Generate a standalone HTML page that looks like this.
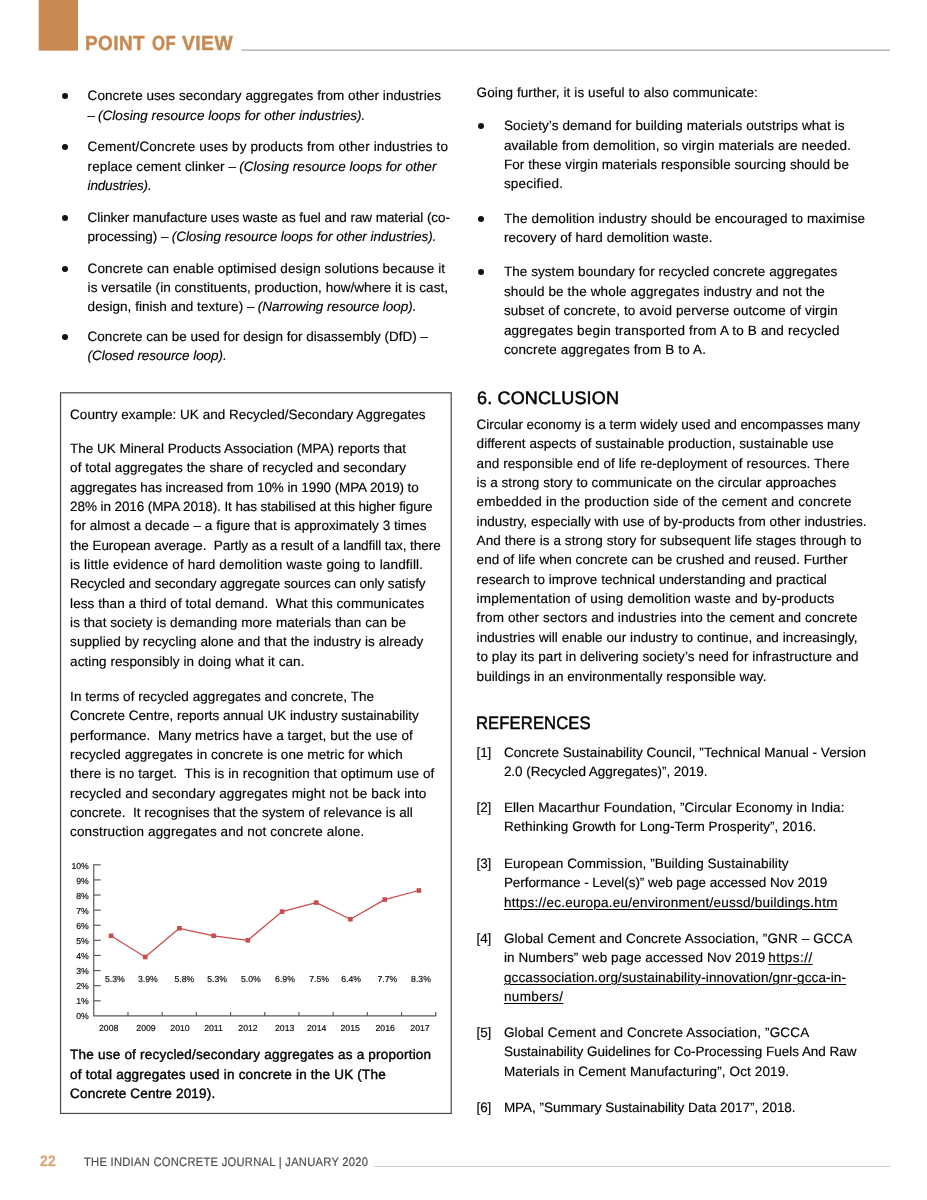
<!DOCTYPE html>
<html lang="en"><head><meta charset="utf-8"><title>Point of View – The Indian Concrete Journal</title>
<style>
html,body{margin:0;padding:0;background:#fff}
body{width:927px;height:1200px;position:relative;overflow:hidden;font-family:"Liberation Sans",sans-serif;color:#000;text-rendering:geometricPrecision}
.t{position:absolute;white-space:pre;font-size:13.5px;line-height:20px;height:20px;-webkit-text-stroke:0.15px #000}
.h{font-size:18px;line-height:24px;height:24px;color:#000;-webkit-text-stroke:0.5px #000;transform-origin:0 0}
.i{font-style:italic}
.m{-webkit-text-stroke:0.4px #000}
.u{text-decoration:underline;text-decoration-thickness:1px;text-underline-offset:1.5px}
.b{position:absolute;width:6px;height:6px;border-radius:50%;background:#111}
.pov{font-weight:bold;font-size:20.5px;line-height:24px;height:24px;color:#c98a52;transform-origin:0 0;transform:scaleX(0.86);-webkit-text-stroke:0.45px #c98a52}
.pn{font-weight:bold;font-size:15px;line-height:18px;height:18px;color:#d8a877;transform-origin:0 0;-webkit-text-stroke:0.3px #d8a877}
.ft{font-size:12.4px;line-height:16px;height:16px;color:#5c5c5c;transform-origin:0 0;transform:scaleX(0.9)}
.chart{position:absolute;left:0;top:0}
</style></head><body>
<i class="b" style="left:61.85px;top:93.0px"></i>
<i class="b" style="left:61.85px;top:144.0px"></i>
<i class="b" style="left:61.85px;top:215.0px"></i>
<i class="b" style="left:61.85px;top:266.0px"></i>
<i class="b" style="left:61.85px;top:334.0px"></i>
<i class="b" style="left:478.00px;top:123.0px"></i>
<i class="b" style="left:478.00px;top:216.0px"></i>
<i class="b" style="left:478.00px;top:269.0px"></i>
<span class="t" style="left:87.6px;top:86px;letter-spacing:0.040px">Concrete uses secondary aggregates from other industries</span>
<span class="t" style="left:87.6px;top:106px;letter-spacing:0.000px">–</span>
<span class="t i" style="left:98.0px;top:106px;letter-spacing:0.039px">(Closing resource loops for other industries).</span>
<span class="t" style="left:87.6px;top:137px;letter-spacing:0.125px">Cement/Concrete uses by products from other industries to</span>
<span class="t" style="left:87.6px;top:157px;letter-spacing:0.090px">replace cement clinker –</span>
<span class="t i" style="left:239.2px;top:157px;letter-spacing:0.042px">(Closing resource loops for other</span>
<span class="t i" style="left:87.6px;top:176px;letter-spacing:-0.176px">industries).</span>
<span class="t" style="left:87.6px;top:208px;letter-spacing:-0.064px">Clinker manufacture uses waste as fuel and raw material (co-</span>
<span class="t" style="left:87.6px;top:227px;letter-spacing:-0.012px">processing) –</span>
<span class="t i" style="left:171.7px;top:227px;letter-spacing:-0.021px">(Closing resource loops for other industries).</span>
<span class="t" style="left:87.6px;top:259px;letter-spacing:0.097px">Concrete can enable optimised design solutions because it</span>
<span class="t" style="left:87.6px;top:278px;letter-spacing:0.039px">is versatile (in constituents, production, how/where it is cast,</span>
<span class="t" style="left:87.6px;top:297px;letter-spacing:0.037px">design, finish and texture) –</span>
<span class="t i" style="left:257.8px;top:297px;letter-spacing:-0.049px">(Narrowing resource loop).</span>
<span class="t" style="left:87.6px;top:327px;letter-spacing:0.009px">Concrete can be used for design for disassembly (DfD) –</span>
<span class="t i" style="left:87.6px;top:346px;letter-spacing:-0.056px">(Closed resource loop).</span>
<span class="t" style="left:70.1px;top:405px;letter-spacing:0.025px">Country example: UK and Recycled/Secondary Aggregates</span>
<span class="t" style="left:70.1px;top:439px;letter-spacing:0.000px">The UK Mineral Products Association (MPA) reports that</span>
<span class="t" style="left:70.1px;top:458px;letter-spacing:0.050px">of total aggregates the share of recycled and secondary</span>
<span class="t" style="left:70.1px;top:478px;letter-spacing:-0.098px">aggregates has increased from 10% in 1990 (MPA 2019) to</span>
<span class="t" style="left:70.1px;top:497px;letter-spacing:-0.094px">28% in 2016 (MPA 2018). It has stabilised at this higher figure</span>
<span class="t" style="left:70.1px;top:516px;letter-spacing:0.050px">for almost a decade – a figure that is approximately 3 times</span>
<span class="t" style="left:70.1px;top:536px;letter-spacing:-0.048px">the European average.  Partly as a result of a landfill tax, there</span>
<span class="t" style="left:70.1px;top:555px;letter-spacing:0.163px">is little evidence of hard demolition waste going to landfill.</span>
<span class="t" style="left:70.1px;top:574px;letter-spacing:-0.071px">Recycled and secondary aggregate sources can only satisfy</span>
<span class="t" style="left:70.1px;top:594px;letter-spacing:0.066px">less than a third of total demand.  What this communicates</span>
<span class="t" style="left:70.1px;top:613px;letter-spacing:0.051px">is that society is demanding more materials than can be</span>
<span class="t" style="left:70.1px;top:632px;letter-spacing:0.059px">supplied by recycling alone and that the industry is already</span>
<span class="t" style="left:70.1px;top:652px;letter-spacing:0.081px">acting responsibly in doing what it can.</span>
<span class="t" style="left:70.1px;top:687px;letter-spacing:0.052px">In terms of recycled aggregates and concrete, The</span>
<span class="t" style="left:70.1px;top:706px;letter-spacing:0.022px">Concrete Centre, reports annual UK industry sustainability</span>
<span class="t" style="left:70.1px;top:726px;letter-spacing:0.064px">performance.  Many metrics have a target, but the use of</span>
<span class="t" style="left:70.1px;top:745px;letter-spacing:0.061px">recycled aggregates in concrete is one metric for which</span>
<span class="t" style="left:70.1px;top:764px;letter-spacing:0.105px">there is no target.  This is in recognition that optimum use of</span>
<span class="t" style="left:70.1px;top:784px;letter-spacing:0.118px">recycled and secondary aggregates might not be back into</span>
<span class="t" style="left:70.1px;top:803px;letter-spacing:-0.004px">concrete.  It recognises that the system of relevance is all</span>
<span class="t" style="left:70.1px;top:822px;letter-spacing:0.112px">construction aggregates and not concrete alone.</span>
<span class="t m" style="left:70.1px;top:1045px;letter-spacing:0.219px">The use of recycled/secondary aggregates as a proportion</span>
<span class="t m" style="left:70.1px;top:1065px;letter-spacing:0.203px">of total aggregates used in concrete in the UK (The</span>
<span class="t m" style="left:70.1px;top:1084px;letter-spacing:0.192px">Concrete Centre 2019).</span>
<span class="t" style="left:476.6px;top:83px;letter-spacing:0.092px">Going further, it is useful to also communicate:</span>
<span class="t" style="left:503.9px;top:116px;letter-spacing:0.097px">Society’s demand for building materials outstrips what is</span>
<span class="t" style="left:503.9px;top:136px;letter-spacing:0.099px">available from demolition, so virgin materials are needed.</span>
<span class="t" style="left:503.9px;top:155px;letter-spacing:0.065px">For these virgin materials responsible sourcing should be</span>
<span class="t" style="left:503.9px;top:174px;letter-spacing:0.217px">specified.</span>
<span class="t" style="left:503.9px;top:209px;letter-spacing:0.154px">The demolition industry should be encouraged to maximise</span>
<span class="t" style="left:503.9px;top:228px;letter-spacing:0.091px">recovery of hard demolition waste.</span>
<span class="t" style="left:503.9px;top:262px;letter-spacing:0.065px">The system boundary for recycled concrete aggregates</span>
<span class="t" style="left:503.9px;top:282px;letter-spacing:0.143px">should be the whole aggregates industry and not the</span>
<span class="t" style="left:503.9px;top:301px;letter-spacing:0.112px">subset of concrete, to avoid perverse outcome of virgin</span>
<span class="t" style="left:503.9px;top:321px;letter-spacing:0.174px">aggregates begin transported from A to B and recycled</span>
<span class="t" style="left:503.9px;top:340px;letter-spacing:0.150px">concrete aggregates from B to A.</span>
<span class="t" style="left:476.6px;top:415px;letter-spacing:-0.025px">Circular economy is a term widely used and encompasses many</span>
<span class="t" style="left:476.6px;top:434px;letter-spacing:0.056px">different aspects of sustainable production, sustainable use</span>
<span class="t" style="left:476.6px;top:454px;letter-spacing:0.078px">and responsible end of life re-deployment of resources. There</span>
<span class="t" style="left:476.6px;top:473px;letter-spacing:0.045px">is a strong story to communicate on the circular approaches</span>
<span class="t" style="left:476.6px;top:492px;letter-spacing:0.204px">embedded in the production side of the cement and concrete</span>
<span class="t" style="left:476.6px;top:512px;letter-spacing:0.058px">industry, especially with use of by-products from other industries.</span>
<span class="t" style="left:476.6px;top:531px;letter-spacing:0.082px">And there is a strong story for subsequent life stages through to</span>
<span class="t" style="left:476.6px;top:550px;letter-spacing:0.041px">end of life when concrete can be crushed and reused. Further</span>
<span class="t" style="left:476.6px;top:570px;letter-spacing:0.076px">research to improve technical understanding and practical</span>
<span class="t" style="left:476.6px;top:589px;letter-spacing:0.188px">implementation of using demolition waste and by-products</span>
<span class="t" style="left:476.6px;top:608px;letter-spacing:0.107px">from other sectors and industries into the cement and concrete</span>
<span class="t" style="left:476.6px;top:628px;letter-spacing:0.070px">industries will enable our industry to continue, and increasingly,</span>
<span class="t" style="left:476.6px;top:647px;letter-spacing:0.072px">to play its part in delivering society’s need for infrastructure and</span>
<span class="t" style="left:476.6px;top:667px;letter-spacing:0.040px">buildings in an environmentally responsible way.</span>
<span class="t" style="left:476.6px;top:743px;letter-spacing:-0.208px">[1]</span>
<span class="t" style="left:503.9px;top:743px;letter-spacing:0.034px">Concrete Sustainability Council, ”Technical Manual - Version</span>
<span class="t" style="left:503.9px;top:762px;letter-spacing:-0.040px">2.0 (Recycled Aggregates)”, 2019.</span>
<span class="t" style="left:476.6px;top:798px;letter-spacing:-0.208px">[2]</span>
<span class="t" style="left:503.9px;top:798px;letter-spacing:0.096px">Ellen Macarthur Foundation, ”Circular Economy in India:</span>
<span class="t" style="left:503.9px;top:817px;letter-spacing:0.067px">Rethinking Growth for Long-Term Prosperity”, 2016.</span>
<span class="t" style="left:476.6px;top:854px;letter-spacing:-0.208px">[3]</span>
<span class="t" style="left:503.9px;top:854px;letter-spacing:0.109px">European Commission, ”Building Sustainability</span>
<span class="t" style="left:503.9px;top:873px;letter-spacing:-0.060px">Performance - Level(s)” web page accessed Nov 2019</span>
<span class="t u" style="left:503.9px;top:893px;letter-spacing:0.256px">https://ec.europa.eu/environment/eussd/buildings.htm</span>
<span class="t" style="left:476.6px;top:929px;letter-spacing:-0.208px">[4]</span>
<span class="t" style="left:503.9px;top:929px;letter-spacing:0.114px">Global Cement and Concrete Association, ”GNR – GCCA</span>
<span class="t" style="left:503.9px;top:948px;letter-spacing:0.090px">in Numbers” web page accessed Nov 2019</span>
<span class="t u" style="left:768.3px;top:948px;letter-spacing:0.481px">https://</span>
<span class="t u" style="left:503.9px;top:968px;letter-spacing:0.133px">gccassociation.org/sustainability-innovation/gnr-gcca-in-</span>
<span class="t u" style="left:503.9px;top:987px;letter-spacing:0.388px">numbers/</span>
<span class="t" style="left:476.6px;top:1023px;letter-spacing:-0.208px">[5]</span>
<span class="t" style="left:503.9px;top:1023px;letter-spacing:0.168px">Global Cement and Concrete Association, ”GCCA</span>
<span class="t" style="left:503.9px;top:1042px;letter-spacing:-0.013px">Sustainability Guidelines for Co-Processing Fuels And Raw</span>
<span class="t" style="left:503.9px;top:1062px;letter-spacing:0.121px">Materials in Cement Manufacturing”, Oct 2019.</span>
<span class="t" style="left:476.6px;top:1098px;letter-spacing:-0.208px">[6]</span>
<span class="t" style="left:503.9px;top:1098px;letter-spacing:-0.032px">MPA, ”Summary Sustainability Data 2017”, 2018.</span>
<span class="t h" style="left:476.7px;top:386px;letter-spacing:0.150px;transform:scaleX(1.0005)">6. CONCLUSION</span>
<span class="t h" style="left:476.0px;top:711px;letter-spacing:0.150px;transform:scaleX(0.9214)">REFERENCES</span>
<span class="t pov" style="left:84.9px;top:31px;letter-spacing:0.500px;transform:translateY(0.5px) scaleX(0.9233)">POINT</span>
<span class="t pov" style="left:151.9px;top:31px;letter-spacing:0.500px;transform:translateY(0.5px) scaleX(0.8181)">OF</span>
<span class="t pov" style="left:182.2px;top:31px;letter-spacing:0.500px;transform:translateY(0.5px) scaleX(0.9387)">VIEW</span>
<span class="t pn" style="left:39.8px;top:1153px;letter-spacing:0.200px;transform:scaleX(0.9238)">22</span>
<span class="t ft" style="left:83.9px;top:1154px;letter-spacing:0.318px;transform:scaleX(0.9000)">THE INDIAN CONCRETE JOURNAL | JANUARY 2020</span>
<svg class="chart" width="927" height="1200" viewBox="0 0 927 1200">
<rect x="38.7" y="0" width="39.3" height="50.6" fill="#c98a52"/>
<path d="M241.4 50.1H889.9" stroke="#a6a6a6" stroke-width="1.05"/>
<path d="M374.3 1166.55H889.9" stroke="#c9c9c9" stroke-width="1.05"/>
<rect x="60.55" y="392.8" width="390.65" height="720.65" fill="none" stroke="#4d4d4d" stroke-width="1.25"/>
<g stroke="#555" stroke-width="1.15" fill="none">
<path d="M93.75 864.25V1015.9H436.25"/>
<path d="M93.75 1000.79h6.9"/>
<path d="M93.75 985.68h6.9"/>
<path d="M93.75 970.57h6.9"/>
<path d="M93.75 955.46h6.9"/>
<path d="M93.75 940.35h6.9"/>
<path d="M93.75 925.24h6.9"/>
<path d="M93.75 910.13h6.9"/>
<path d="M93.75 895.02h6.9"/>
<path d="M93.75 879.91h6.9"/>
<path d="M93.75 864.80h6.9"/>
<path d="M127.95 1015.9v-3.8"/>
<path d="M162.15 1015.9v-3.8"/>
<path d="M196.35 1015.9v-3.8"/>
<path d="M230.55 1015.9v-3.8"/>
<path d="M264.75 1015.9v-3.8"/>
<path d="M298.95 1015.9v-3.8"/>
<path d="M333.15 1015.9v-3.8"/>
<path d="M367.35 1015.9v-3.8"/>
<path d="M401.55 1015.9v-3.8"/>
<path d="M435.75 1015.9v-3.8"/>
</g>
<polyline fill="none" stroke="#c94b4b" stroke-width="1.25" stroke-linejoin="round" points="111.0,935.8 145.2,957.0 179.4,928.3 213.7,935.8 247.8,940.3 282.1,911.6 316.2,902.6 350.4,919.2 384.7,899.6 418.9,890.5"/>
<rect x="108.8" y="933.5" width="4.6" height="4.6" fill="#c94b4b"/>
<rect x="142.9" y="954.7" width="4.6" height="4.6" fill="#c94b4b"/>
<rect x="177.1" y="926.0" width="4.6" height="4.6" fill="#c94b4b"/>
<rect x="211.3" y="933.5" width="4.6" height="4.6" fill="#c94b4b"/>
<rect x="245.5" y="938.0" width="4.6" height="4.6" fill="#c94b4b"/>
<rect x="279.8" y="909.3" width="4.6" height="4.6" fill="#c94b4b"/>
<rect x="313.9" y="900.3" width="4.6" height="4.6" fill="#c94b4b"/>
<rect x="348.1" y="916.9" width="4.6" height="4.6" fill="#c94b4b"/>
<rect x="382.4" y="897.3" width="4.6" height="4.6" fill="#c94b4b"/>
<rect x="416.6" y="888.2" width="4.6" height="4.6" fill="#c94b4b"/>
<g font-family="Liberation Sans, sans-serif" font-size="8.7" fill="#111" stroke="#111" stroke-width="0.2" text-anchor="end">
<text x="88.8" y="1018.5">0%</text>
<text x="88.8" y="1003.5">1%</text>
<text x="88.8" y="988.6">2%</text>
<text x="88.8" y="973.6">3%</text>
<text x="88.8" y="958.7">4%</text>
<text x="88.8" y="943.8">5%</text>
<text x="88.8" y="928.8">6%</text>
<text x="88.8" y="913.9">7%</text>
<text x="88.8" y="898.9">8%</text>
<text x="88.8" y="884.0">9%</text>
<text x="88.8" y="869.0">10%</text>
</g>
<g font-family="Liberation Sans, sans-serif" font-size="8.7" fill="#111" stroke="#111" stroke-width="0.2" text-anchor="middle">
<text x="114.9" y="981.9">5.3%</text>
<text x="147.9" y="981.9">3.9%</text>
<text x="184.4" y="981.9">5.8%</text>
<text x="217.2" y="981.9">5.3%</text>
<text x="250.8" y="981.9">5.0%</text>
<text x="285.0" y="981.9">6.9%</text>
<text x="319.1" y="981.9">7.5%</text>
<text x="351.2" y="981.9">6.4%</text>
<text x="387.4" y="981.9">7.7%</text>
<text x="421.0" y="981.9">8.3%</text>
<text x="108.7" y="1030.9">2008</text>
<text x="146.0" y="1030.9">2009</text>
<text x="180.0" y="1030.9">2010</text>
<text x="213.5" y="1030.9">2011</text>
<text x="248.0" y="1030.9">2012</text>
<text x="284.7" y="1030.9">2013</text>
<text x="316.7" y="1030.9">2014</text>
<text x="350.2" y="1030.9">2015</text>
<text x="385.2" y="1030.9">2016</text>
<text x="420.0" y="1030.9">2017</text>
</g></svg>
</body></html>
